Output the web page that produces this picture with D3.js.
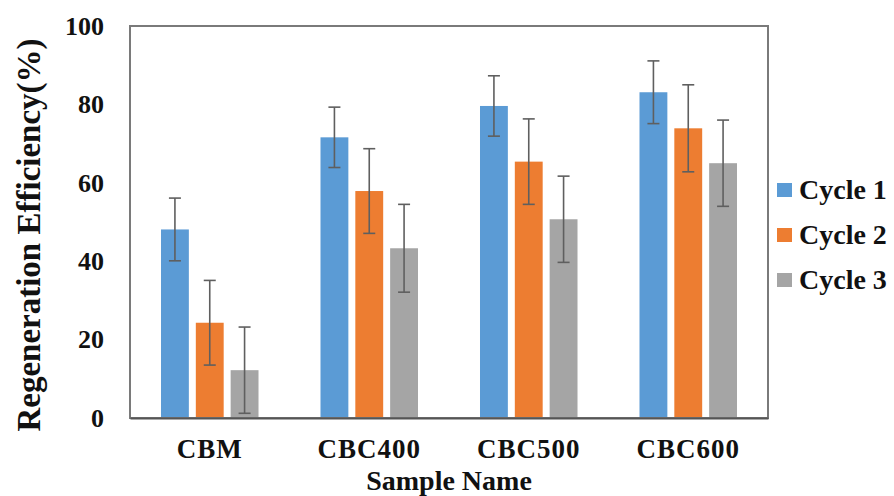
<!DOCTYPE html>
<html>
<head>
<meta charset="utf-8">
<script src="https://cdn.jsdelivr.net/npm/d3@7"></script>
<style>
  body { margin: 0; background: #fff; }
  text { font-family: "Liberation Serif", "Times New Roman", serif; font-weight: bold; }
</style>
</head>
<body>
<svg id="fig"></svg>
<script>
const categories = ['CBM', 'CBC400', 'CBC500', 'CBC600'];
const series = ['Cycle 1', 'Cycle 2', 'Cycle 3'];
const cycle1 = [48.1, 71.6, 79.6, 83.1];
const cycle2 = [24.3, 57.9, 65.4, 73.9];
const cycle3 = [12.2, 43.3, 50.7, 65.0];
const err1 = [8.0, 7.7, 7.7, 8.0];
const err2 = [10.8, 10.8, 10.9, 11.1];
const err3 = [11.0, 11.2, 11.0, 11.0];
const yTicks = [0, 20, 40, 60, 80, 100];
const colors = ['#5b9bd5', '#ed7d31', '#a5a5a5'];

function render(svgTag, width, height) {
    const values = [cycle1, cycle2, cycle3];
    const errors = [err1, err2, err3];
    const rows = [];
    categories.forEach((c, i) => {
        series.forEach((s, j) => {
            rows.push({ cat: c, ser: s, val: values[j][i], err: errors[j][i], color: colors[j] });
        });
    });

    const margin = { top: 26, right: 126, bottom: 78, left: 130 };
    const innerWidth = width - margin.left - margin.right;
    const innerHeight = height - margin.top - margin.bottom;

    const xScale = d3.scaleBand()
        .domain(categories)
        .range([0, innerWidth])
        .padding(0);
    const x1 = d3.scaleBand()
        .domain(series)
        .range([0, xScale.bandwidth()])
        .paddingInner(0.2)
        .paddingOuter(0.89);
    const yScale = d3.scaleLinear()
        .domain([0, 100])
        .range([innerHeight, 0]);

    const svg = d3.select(svgTag)
        .attr('width', width)
        .attr('height', height);
    const g = svg.append('g')
        .attr('transform', `translate(${margin.left},${margin.top})`);

    // bars
    g.selectAll('rect.bar').data(rows)
        .enter().append('rect')
        .attr('class', 'bar')
        .attr('x', d => xScale(d.cat) + x1(d.ser))
        .attr('y', d => yScale(d.val))
        .attr('width', x1.bandwidth())
        .attr('height', d => innerHeight - yScale(d.val))
        .attr('fill', d => d.color);

    // error bars
    const eb = g.selectAll('g.err').data(rows)
        .enter().append('g')
        .attr('class', 'err')
        .attr('stroke', '#5f5f5f')
        .attr('stroke-width', 1.6);
    const cx = d => xScale(d.cat) + x1(d.ser) + x1.bandwidth() / 2;
    eb.append('line')
        .attr('x1', cx).attr('x2', cx)
        .attr('y1', d => yScale(d.val + d.err))
        .attr('y2', d => yScale(Math.max(0, d.val - d.err)));
    eb.append('line')
        .attr('x1', d => cx(d) - 6).attr('x2', d => cx(d) + 6)
        .attr('y1', d => yScale(d.val + d.err)).attr('y2', d => yScale(d.val + d.err));
    eb.append('line')
        .attr('x1', d => cx(d) - 6).attr('x2', d => cx(d) + 6)
        .attr('y1', d => yScale(Math.max(0, d.val - d.err))).attr('y2', d => yScale(Math.max(0, d.val - d.err)));

    // frame
    g.append('rect')
        .attr('x', 0).attr('y', 0)
        .attr('width', innerWidth).attr('height', innerHeight)
        .attr('fill', 'none')
        .attr('stroke', '#7a7a7a')
        .attr('stroke-width', 2);

    // y axis
    const yAxis = g.append('g')
        .call(d3.axisLeft(yScale).tickValues(yTicks).tickSize(0).tickPadding(26));
    yAxis.select('.domain').remove();
    yAxis.selectAll('text')
        .style('font-size', '26px')
        .style('font-family', '"Liberation Serif", serif')
        .style('font-weight', 'bold')
        .attr('fill', '#111');

    // x axis
    const xAxis = g.append('g')
        .attr('transform', `translate(0,${innerHeight})`)
        .call(d3.axisBottom(xScale).tickSize(0).tickPadding(21));
    xAxis.select('.domain').attr('stroke', '#555').attr('stroke-width', 2);
    xAxis.selectAll('text')
        .style('font-size', '27px')
        .style('font-family', '"Liberation Serif", serif')
        .style('font-weight', 'bold')
        .style('letter-spacing', '1px')
        .attr('fill', '#111');

    // axis titles
    svg.append('text')
        .attr('x', margin.left + innerWidth / 2)
        .attr('y', 490)
        .attr('text-anchor', 'middle')
        .style('font-size', '28px')
        .attr('fill', '#111')
        .text('Sample Name');
    svg.append('text')
        .attr('transform', `translate(40,235) rotate(-90)`)
        .attr('text-anchor', 'middle')
        .style('font-size', '33px')
        .attr('fill', '#111')
        .text('Regeneration  Efficiency(%)');

    // legend
    const legend = svg.append('g')
        .attr('transform', 'translate(777,190)');
    const items = legend.selectAll('g').data(series)
        .enter().append('g')
        .attr('transform', (d, i) => `translate(0,${i * 45})`);
    items.append('rect')
        .attr('x', 0).attr('y', -7)
        .attr('width', 15).attr('height', 14)
        .attr('fill', (d, i) => colors[i]);
    items.append('text')
        .attr('x', 22).attr('y', 9)
        .style('font-size', '28px')
        .attr('fill', '#111')
        .text(d => d);
}

render('#fig', 894, 496);
</script>
</body>
</html>
